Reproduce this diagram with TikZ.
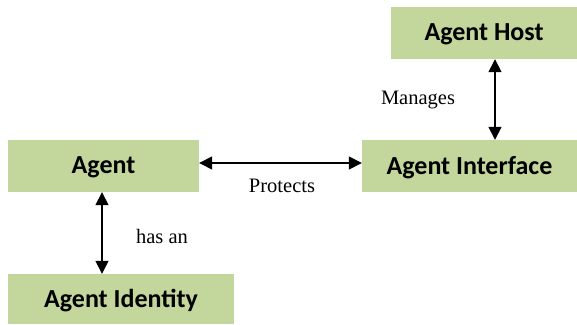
\documentclass[tikz,border=0pt]{standalone}
\usepackage{fontspec}
\setmainfont{Liberation Serif}
\newfontfamily\boxfont{Carlito}
\usetikzlibrary{arrows.meta}
\definecolor{boxgreen}{RGB}{195,214,155}

\begin{document}
\begin{tikzpicture}[x=1pt,y=1pt,
    box/.style={fill=boxgreen, draw=none, inner sep=0pt, text depth=2pt, font=\boxfont\bfseries\fontsize{26}{30}\selectfont},
    link/.style={{Triangle[length=13pt,width=13pt]}-{Triangle[length=13pt,width=13pt]}, line width=1.5pt},
    lbl/.style={font=\fontsize{20.5}{24}\selectfont}]
    \useasboundingbox (0,0) rectangle (577,324);

    % Boxes
    \node[box, minimum width=186pt, minimum height=52pt] (host) at (484,291) {Agent Host};
    \node[box, minimum width=215pt, minimum height=52pt] (iface) at (469.5,158) {Agent Interface};
    \node[box, minimum width=191pt, minimum height=52pt] (agent) at (103.5,158) {Agent};
    \node[box, minimum width=226pt, minimum height=50pt] (ident) at (121,25) {Agent Identity};

    % Arrows
    \draw[link] ([xshift=11pt]host.south) -- ([xshift=11pt]host.south |- iface.north);
    \draw[link] ([yshift=3pt]agent.east) -- ([yshift=3pt]agent.east -| iface.west);
    \draw[link] ([xshift=-1.5pt]agent.south) -- ([xshift=-1.5pt]agent.south |- ident.north);

    % Labels
    \node[lbl] (manages) at (418,224) {Manages};
    \node[lbl] (protects) at (282,138) {Protects};
    \node[lbl] (hasan) at (162,88) {has an};
\end{tikzpicture}
\end{document}
